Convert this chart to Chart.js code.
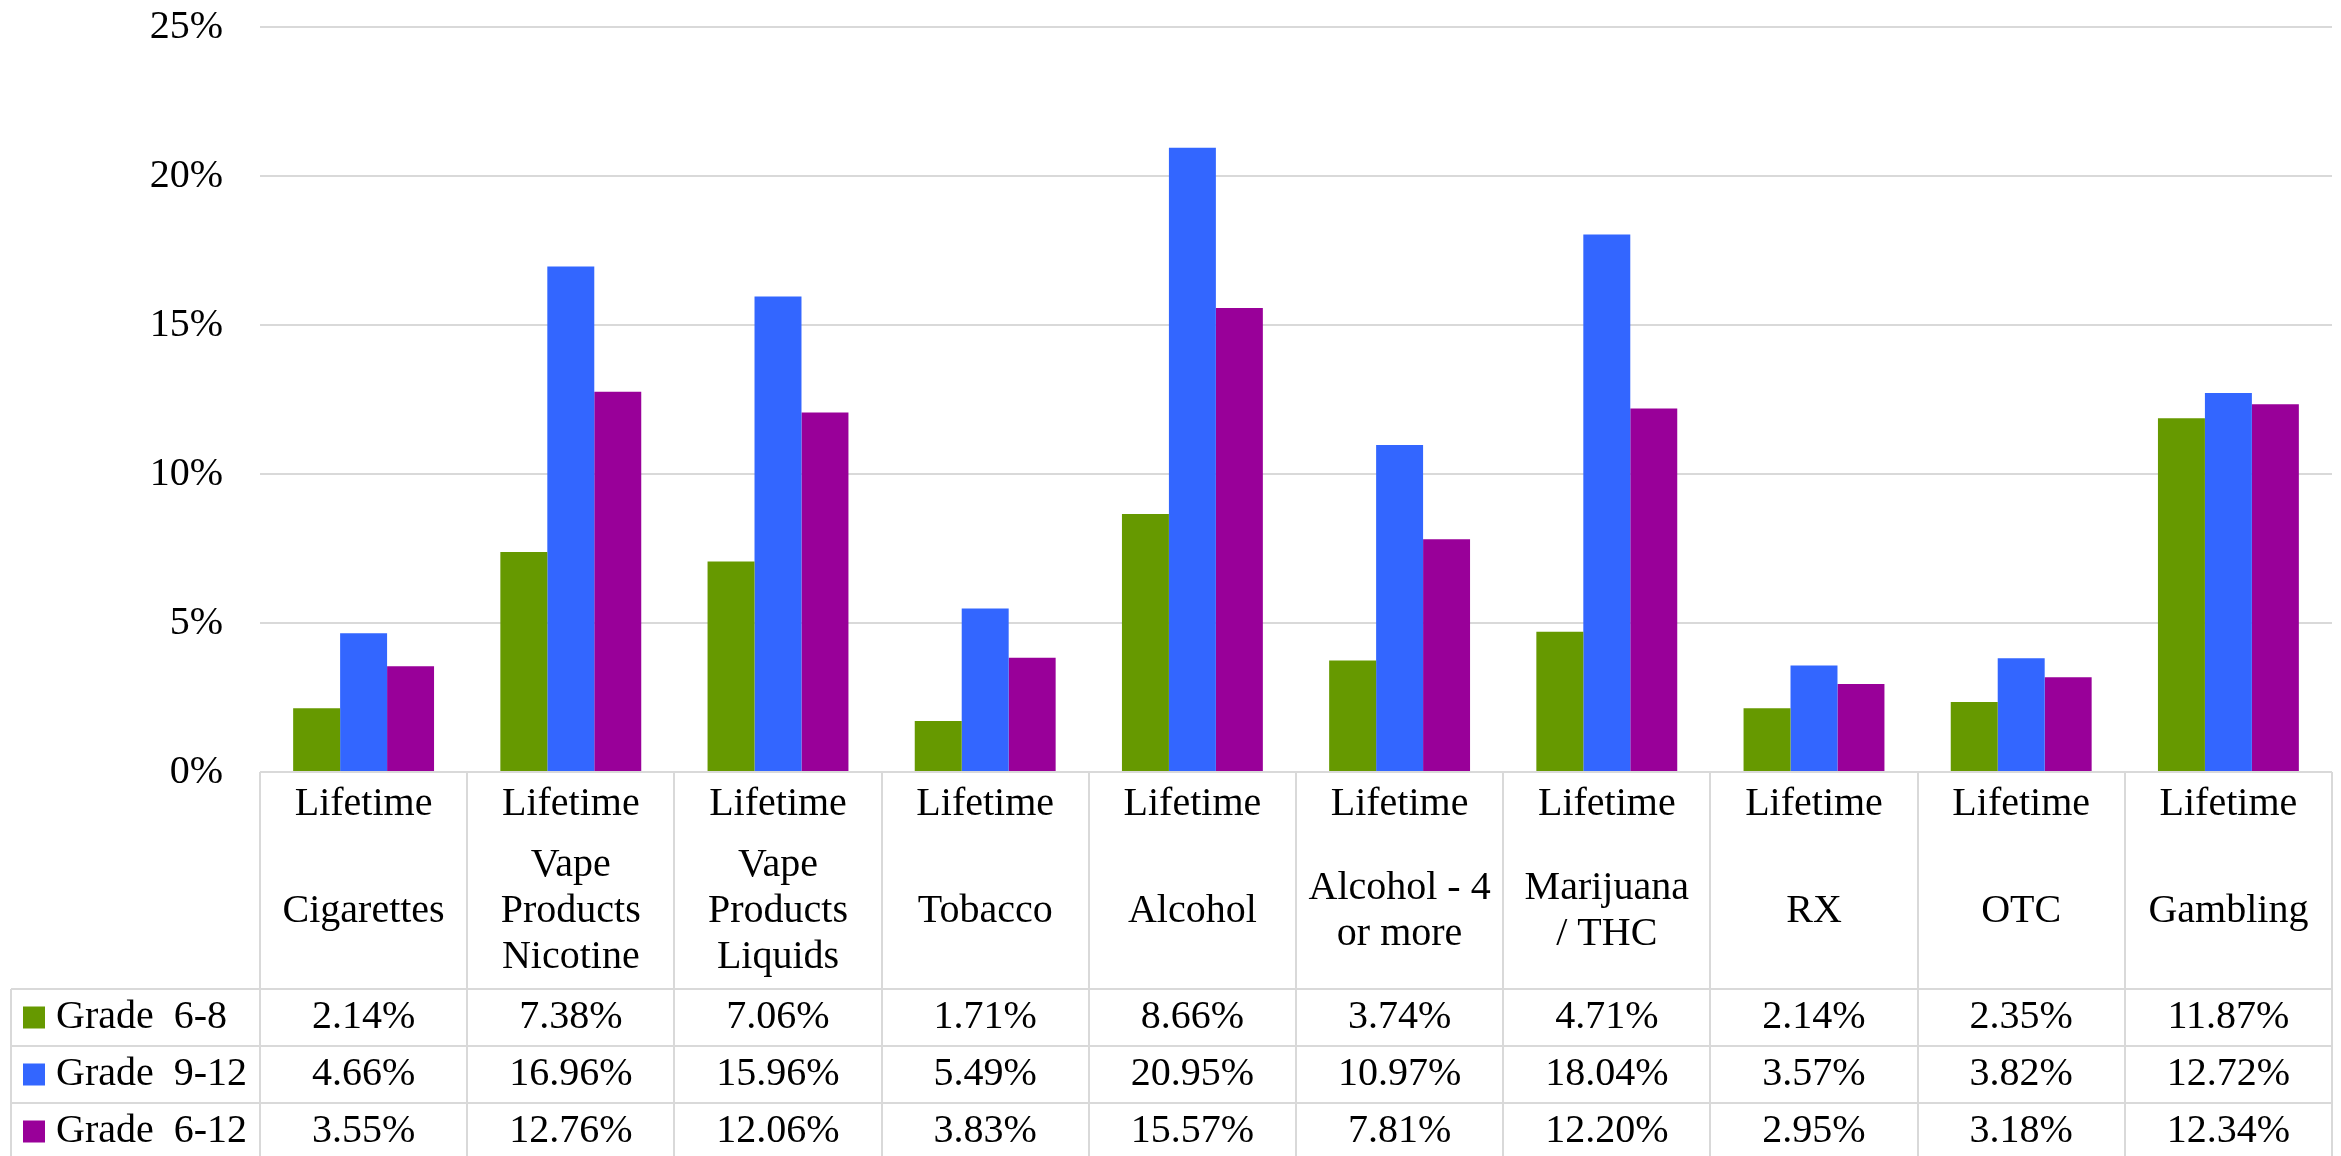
<!DOCTYPE html>
<html>
<head>
<meta charset="utf-8">
<script src="https://cdn.jsdelivr.net/npm/chart.js@4"></script>
<style>
  body { margin: 0; background: #fff; }
  canvas { display: block; }
</style>
</head>
<body>
<canvas id="myChart" width="2341" height="1156"></canvas>
<script>
var categories = [
  ["Lifetime", "Cigarettes"],
  ["Lifetime", "Vape", "Products", "Nicotine"],
  ["Lifetime", "Vape", "Products", "Liquids"],
  ["Lifetime", "Tobacco"],
  ["Lifetime", "Alcohol"],
  ["Lifetime", "Alcohol - 4", "or more"],
  ["Lifetime", "Marijuana", "/ THC"],
  ["Lifetime", "RX"],
  ["Lifetime", "OTC"],
  ["Lifetime", "Gambling"]
];
var seriesNames = ["Grade  6-8", "Grade  9-12", "Grade  6-12"];
var grade68 = [2.14, 7.38, 7.06, 1.71, 8.66, 3.74, 4.71, 2.14, 2.35, 11.87];
var grade912 = [4.66, 16.96, 15.96, 5.49, 20.95, 10.97, 18.04, 3.57, 3.82, 12.72];
var grade612 = [3.55, 12.76, 12.06, 3.83, 15.57, 7.81, 12.20, 2.95, 3.18, 12.34];
var yTicks = [0, 5, 10, 15, 20, 25];
var barColors = ["#669900", "#3366FF", "#990099"];

var FONT = '40px "Liberation Serif", "Times New Roman", serif';
var LINE = "#D9D9D9";

// draws the Excel-style data table under the plot
var dataTable = {
  id: "dataTable",
  afterDraw: function (chart) {
    var ctx = chart.ctx;
    var area = chart.chartArea;
    var n = categories.length;
    var colW = (area.right - area.left) / n;
    var headerBottom = 989;
    var rowH = 57;
    var tableLeft = 11;
    var bottom = chart.height;

    ctx.save();
    ctx.strokeStyle = LINE;
    ctx.lineWidth = 2;

    // top border of the header
    ctx.beginPath();
    ctx.moveTo(area.left, area.bottom);
    ctx.lineTo(area.right, area.bottom);
    ctx.stroke();

    // row lines
    for (var r = 0; r < 3; r++) {
      var y = headerBottom + r * rowH;
      ctx.beginPath();
      ctx.moveTo(tableLeft, y);
      ctx.lineTo(area.right, y);
      ctx.stroke();
    }

    // column lines
    for (var i = 0; i <= n; i++) {
      var x = Math.round(area.left + i * colW);
      ctx.beginPath();
      ctx.moveTo(x, area.bottom);
      ctx.lineTo(x, bottom);
      ctx.stroke();
    }
    ctx.beginPath();
    ctx.moveTo(tableLeft, headerBottom);
    ctx.lineTo(tableLeft, bottom);
    ctx.stroke();

    ctx.fillStyle = "#000";
    ctx.font = FONT;
    ctx.textBaseline = "middle";
    ctx.textAlign = "center";

    // header labels
    var xs = chart.scales.x;
    for (var c = 0; c < n; c++) {
      var cx = xs.getPixelForValue(c);
      var lines = categories[c];
      ctx.fillText(lines[0], cx, 804);
      var rest = lines.slice(1);
      var lh = 46;
      var start = 911 - (rest.length - 1) * lh / 2;
      for (var k = 0; k < rest.length; k++) {
        ctx.fillText(rest[k], cx, start + k * lh);
      }
    }

    // values
    var rows = [grade68, grade912, grade612];
    for (var r2 = 0; r2 < rows.length; r2++) {
      var cy = headerBottom + r2 * rowH + rowH / 2;
      ctx.textAlign = "center";
      for (var c2 = 0; c2 < n; c2++) {
        ctx.fillText(rows[r2][c2].toFixed(2) + "%", xs.getPixelForValue(c2), cy);
      }
      // legend key
      ctx.fillStyle = barColors[r2];
      ctx.fillRect(23, cy - 11, 22, 22);
      ctx.fillStyle = "#000";
      ctx.textAlign = "left";
      ctx.fillText(seriesNames[r2], 56, cy);
    }
    ctx.restore();
  }
};

new Chart("myChart", {
  type: "bar",
  data: {
    labels: categories.map(function (c) { return c.join(" "); }),
    datasets: [
      { label: seriesNames[0], data: grade68, backgroundColor: barColors[0] },
      { label: seriesNames[1], data: grade912, backgroundColor: barColors[1] },
      { label: seriesNames[2], data: grade612, backgroundColor: barColors[2] }
    ]
  },
  options: {
    responsive: false,
    devicePixelRatio: 1,
    animation: false,
    layout: { padding: { top: 27, bottom: 384, right: 9, left: 0 } },
    datasets: {
      bar: { categoryPercentage: 0.68, barPercentage: 1 }
    },
    plugins: {
      legend: { display: false },
      tooltip: { enabled: false }
    },
    scales: {
      x: { display: false },
      y: {
        min: 0,
        max: 25,
        afterFit: function (scale) {
          scale.width = 260;
          scale.paddingTop = 0;
          scale.paddingBottom = 0;
        },
        afterBuildTicks: function (scale) {
          scale.ticks = yTicks.map(function (v) { return { value: v }; });
        },
        border: { display: false },
        grid: { color: LINE, lineWidth: 2, drawTicks: false },
        ticks: {
          padding: 37,
          color: "#000",
          font: { family: '"Liberation Serif", "Times New Roman", serif', size: 40 },
          callback: function (v) { return v + "%"; }
        }
      }
    }
  },
  plugins: [dataTable]
});
</script>
</body>
</html>
